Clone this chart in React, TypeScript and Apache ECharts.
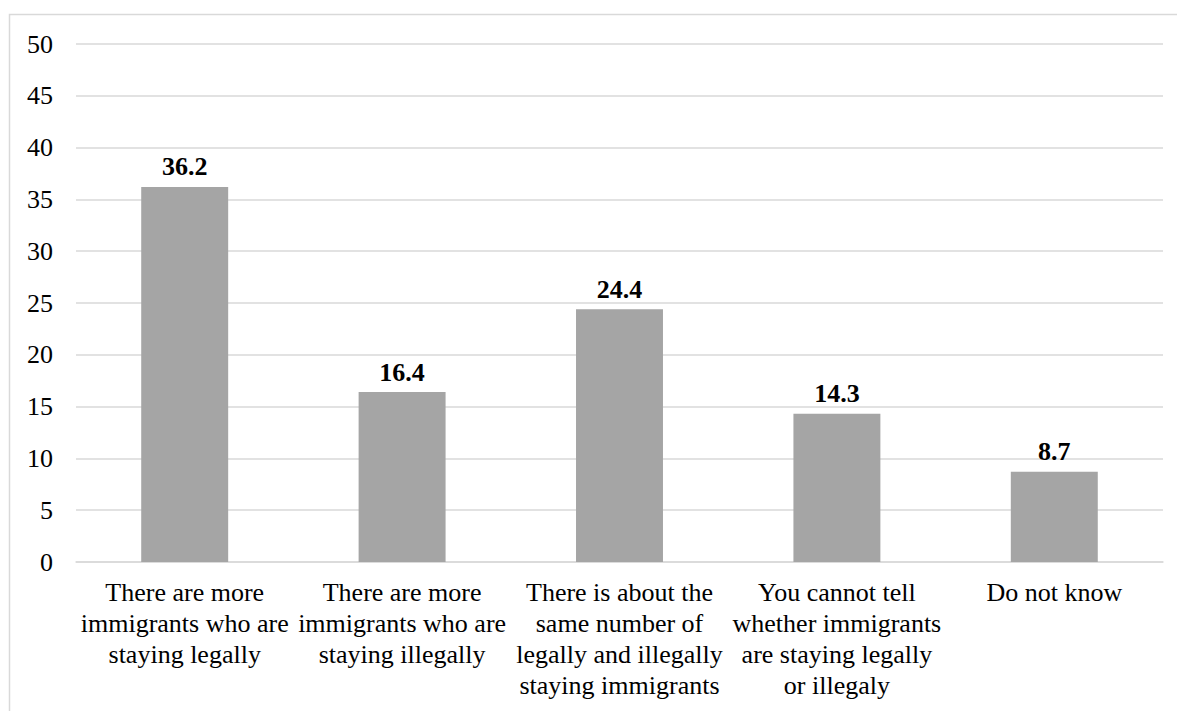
import React, { useEffect, useRef } from "react";
import * as echarts from "echarts";

const categories: string[] = [
  "There are more\nimmigrants who are\nstaying legally",
  "There are more\nimmigrants who are\nstaying illegally",
  "There is about the\nsame number of\nlegally and illegally\nstaying immigrants",
  "You cannot tell\nwhether immigrants\nare staying legally\nor illegaly",
  "Do not know",
];

const values: number[] = [36.2, 16.4, 24.4, 14.3, 8.7];

const yMin = 0;
const yMax = 50;
const yStep = 5;

const FONT = "'Liberation Serif', 'Times New Roman', serif";

export default function App() {
  const ref = useRef<HTMLDivElement>(null);

  useEffect(() => {
    if (!ref.current) return;
    const chart = echarts.init(ref.current, null, { renderer: "svg" });
    chart.setOption({
      animation: false,
      backgroundColor: "#ffffff",
      graphic: [
        {
          type: "rect",
          shape: { x: 9.5, y: 14.5, width: 1200, height: 720 },
          style: { fill: "none", stroke: "#d9d9d9", lineWidth: 1.5 },
          silent: true,
        },
      ],
      grid: { left: 76, right: 14, top: 44, bottom: 149 },
      xAxis: {
        type: "category",
        data: categories,
        axisTick: { show: false },
        axisLine: { show: true, lineStyle: { color: "#d9d9d9", width: 1.5 } },
        axisLabel: {
          interval: 0,
          color: "#000000",
          fontFamily: FONT,
          fontSize: 26,
          lineHeight: 31,
          margin: 15,
          align: "center",
        },
      },
      yAxis: {
        type: "value",
        min: yMin,
        max: yMax,
        interval: yStep,
        axisLine: { show: false },
        axisTick: { show: false },
        splitLine: { lineStyle: { color: "#d9d9d9", width: 1.5 } },
        axisLabel: {
          color: "#000000",
          fontFamily: FONT,
          fontSize: 26,
          margin: 23,
        },
      },
      series: [
        {
          type: "bar",
          data: values,
          barWidth: "40%",
          itemStyle: { color: "#a5a5a5" },
          label: {
            show: true,
            position: "top",
            distance: 7,
            color: "#000000",
            fontFamily: FONT,
            fontWeight: "bold",
            fontSize: 26,
            formatter: (p: any) => Number(p.value).toFixed(1),
          },
        },
      ],
    });
    return () => chart.dispose();
  }, []);

  return (
    <div
      ref={ref}
      style={{ position: "fixed", left: 0, top: 0, width: 1177, height: 711 }}
    />
  );
}
